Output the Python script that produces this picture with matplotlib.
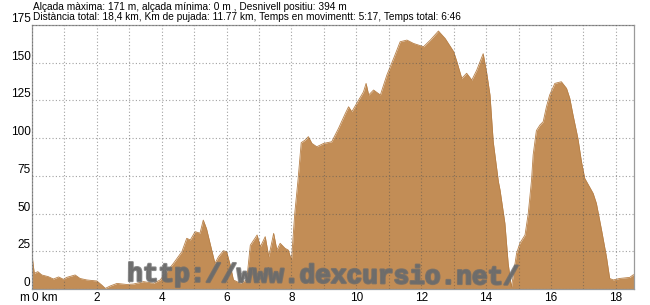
import matplotlib.pyplot as plt
import matplotlib.patheffects as pe
import numpy as np

# Perfil d'elevació (km, m) llegit del gràfic
dist_km = [0.0, 0.07, 0.18, 0.3, 0.5, 0.66, 0.82, 0.97, 1.07, 1.33, 1.48, 1.69,
           2.0, 2.15, 2.26, 2.41, 2.62, 2.92, 3.13, 3.44, 3.75, 3.95, 4.16, 4.36,
           4.62, 4.77, 4.88, 5.03, 5.18, 5.28, 5.38, 5.54, 5.64, 5.75, 5.9, 6.0,
           6.11, 6.21, 6.42, 6.62, 6.73, 6.94, 7.04, 7.19, 7.3, 7.45, 7.55, 7.65,
           7.8, 7.9, 8.0, 8.1, 8.2, 8.3, 8.42, 8.52, 8.63, 8.78, 8.99, 9.24, 9.45,
           9.66, 9.76, 9.86, 10.07, 10.22, 10.3, 10.38, 10.53, 10.74, 10.94,
           11.15, 11.35, 11.56, 11.76, 12.07, 12.28, 12.53, 12.74, 13.0, 13.1,
           13.25, 13.4, 13.56, 13.71, 13.91, 14.02, 14.12, 14.22, 14.38, 14.43,
           14.58, 14.68, 14.78, 14.94, 15.04, 15.2, 15.3, 15.4, 15.45, 15.55,
           15.66, 15.76, 15.86, 15.96, 16.12, 16.32, 16.48, 16.58, 16.68, 16.83,
           16.94, 17.04, 17.3, 17.4, 17.56, 17.71, 17.81, 17.92, 18.12, 18.43,
           18.53, 18.56]
alt_m = [22.5, 10.4, 11.5, 9.3, 8.2, 6.6, 8.0, 6.4, 7.7, 9.3, 7.0, 6.0,
         5.3, 2.6, 0.4, 2.0, 3.7, 3.0, 3.3, 4.9, 3.8, 6.0, 11.5, 17.0,
         24.7, 33.6, 32.5, 38.0, 37.0, 45.7, 40.0, 25.8, 17.0, 21.4, 25.4, 24.7,
         15.9, 6.0, 3.8, 6.0, 29.0, 35.8, 28.0, 34.7, 21.4, 36.9, 25.8, 30.3,
         27.0, 25.8, 19.0, 50.0, 72.0, 97.0, 98.7, 101.0, 96.5, 94.3, 96.5, 97.6, 106.5,
         116.4, 120.8, 117.5, 125.2, 130.7, 136.3, 128.6, 131.9, 128.6, 141.8,
         152.9, 163.9, 165.0, 162.8, 160.6, 165.0, 171.0, 166.0, 157.3, 150.6,
         139.6, 143.0, 138.5, 145.0, 156.0, 143.0, 128.6, 97.6, 71.0, 65.6,
         43.5, 17.0, 1.0, 23.7, 30.3, 35.8, 50.2, 72.0, 88.8, 105.0,
         108.7, 110.9, 120.8, 128.6, 136.3, 137.4, 133.0, 126.4, 115.3, 99.9,
         84.4, 73.4, 63.4, 56.8, 39.0, 21.4, 7.0, 6.0, 7.0, 7.7,
         9.3, 9.5]

y_ticks = [0, 25, 50, 75, 100, 125, 150, 175]
x_ticks = list(range(0, 19))
x_labels = ["0 km" if k == 0 else (str(k) if k % 2 == 0 else "") for k in x_ticks]

linia1 = "Alçada màxima: 171 m, alçada mínima: 0 m , Desnivell positiu: 394 m"
linia2 = "Distància total: 18,4 km, Km de pujada: 11.77 km, Temps en movimentt: 5:17, Temps total: 6:46"

plt.rcParams['font.family'] = ['Liberation Sans', 'DejaVu Sans']

fig = plt.figure(figsize=(6.5, 3.05), dpi=100)
ax = fig.add_axes([32 / 650, 16 / 305, 602 / 650, 264 / 305])

ax.fill_between(dist_km, alt_m, 0, color='#C28D56', linewidth=0, zorder=1)
ax.plot(dist_km, alt_m, color='#B78048', linewidth=0.6, zorder=1)

ax.set_xlim(0, 18.56)
ax.set_ylim(0, 175)
ax.set_xticks(x_ticks)
ax.set_xticklabels(x_labels, fontsize=8.5)
ax.set_yticks(y_ticks)
ax.set_yticklabels([str(v) for v in y_ticks], fontsize=8.5)
ax.tick_params(axis='y', length=0, pad=1)
ax.tick_params(axis='x', length=0, pad=2.5)
for lab in ax.get_yticklabels():
    lab.set_verticalalignment('bottom')
ax.get_xticklabels()[0].set_horizontalalignment('left')

ax.grid(True, color='#555555', alpha=0.55, linestyle=(0, (1, 2)), linewidth=0.8, zorder=2)
ax.set_axisbelow(False)
for s in ax.spines.values():
    s.set_color('#9a9a9a')
    s.set_linewidth(0.9)

fig.text(33 / 650, 1 - 7 / 305, linia1, fontsize=7.3, va='center', ha='left')
fig.text(33 / 650, 1 - 17.5 / 305, linia2, fontsize=7.3, va='center', ha='left')
fig.text(19 / 650, 1 - 298 / 305, "m", fontsize=8.5, va='center', ha='left')

# marca d'aigua lleugerament inclinada
ax.text(0.158, 0.03, "http://www.dexcursio.net/", transform=ax.transAxes,
        family=['Liberation Mono', 'DejaVu Sans Mono'], fontweight='bold',
        fontsize=18.8, color='#6c6c6c', alpha=0.8, va='baseline', ha='left', zorder=3,
        rotation=-0.5, rotation_mode='anchor',
        path_effects=[pe.withStroke(linewidth=1.6, foreground='#6c6c6c')])

fig.savefig('out.png', dpi=100, facecolor='white')
